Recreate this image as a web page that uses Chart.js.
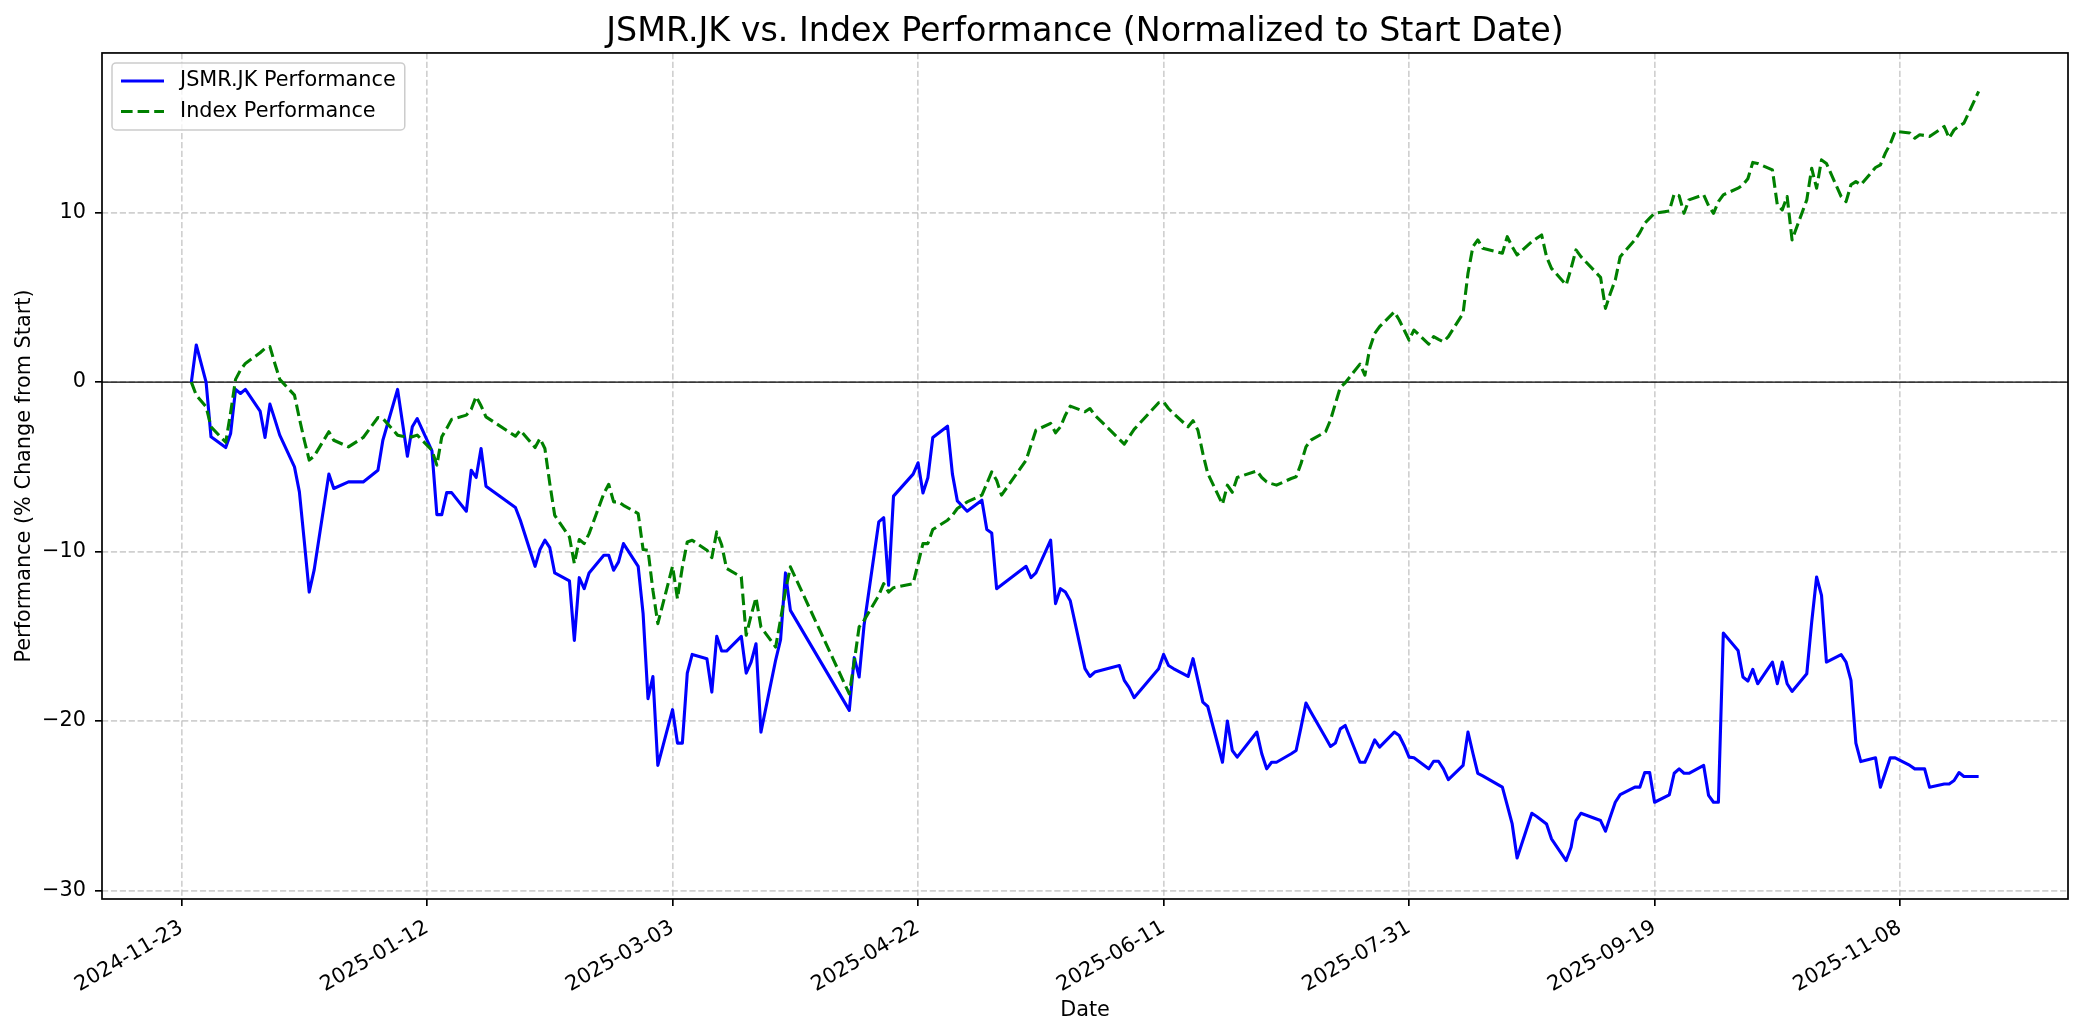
<!DOCTYPE html>
<html>
<head>
<meta charset="utf-8">
<title>JSMR.JK vs. Index Performance</title>
<script src="https://cdn.jsdelivr.net/npm/chart.js@4.4.1/dist/chart.umd.min.js"></script>
<style>
  html, body { margin: 0; padding: 0; background: #fff; }
  #wrap { width: 2084px; height: 1035px; }
</style>
</head>
<body>
<div id="wrap"><canvas id="perfChart" width="2084" height="1035"></canvas></div>
<script>
// trading days (IDX), grouped by month
const tradeDates = [
  '2024-11-25', '2024-11-26', '2024-11-28', '2024-11-29',
  '2024-12-02', '2024-12-03', '2024-12-04', '2024-12-05', '2024-12-06', '2024-12-09', '2024-12-10', '2024-12-11',
  '2024-12-12', '2024-12-13', '2024-12-16', '2024-12-17', '2024-12-18', '2024-12-19', '2024-12-20', '2024-12-23',
  '2024-12-24', '2024-12-27', '2024-12-30',
  '2025-01-02', '2025-01-03', '2025-01-06', '2025-01-07', '2025-01-08', '2025-01-09', '2025-01-10', '2025-01-13',
  '2025-01-14', '2025-01-15', '2025-01-16', '2025-01-17', '2025-01-20', '2025-01-21', '2025-01-22', '2025-01-23',
  '2025-01-24', '2025-01-30', '2025-01-31',
  '2025-02-03', '2025-02-04', '2025-02-05', '2025-02-06', '2025-02-07', '2025-02-10', '2025-02-11', '2025-02-12',
  '2025-02-13', '2025-02-14', '2025-02-17', '2025-02-18', '2025-02-19', '2025-02-20', '2025-02-21', '2025-02-24',
  '2025-02-25', '2025-02-26', '2025-02-27', '2025-02-28',
  '2025-03-03', '2025-03-04', '2025-03-05', '2025-03-06', '2025-03-07', '2025-03-10', '2025-03-11', '2025-03-12',
  '2025-03-13', '2025-03-14', '2025-03-17', '2025-03-18', '2025-03-19', '2025-03-20', '2025-03-21', '2025-03-24',
  '2025-03-25', '2025-03-26', '2025-03-27',
  '2025-04-08', '2025-04-09', '2025-04-10', '2025-04-11', '2025-04-14', '2025-04-15', '2025-04-16', '2025-04-17',
  '2025-04-21', '2025-04-22', '2025-04-23', '2025-04-24', '2025-04-25', '2025-04-28', '2025-04-29', '2025-04-30',
  '2025-05-02', '2025-05-05', '2025-05-06', '2025-05-07', '2025-05-08', '2025-05-09', '2025-05-14', '2025-05-15',
  '2025-05-16', '2025-05-19', '2025-05-20', '2025-05-21', '2025-05-22', '2025-05-23', '2025-05-26', '2025-05-27',
  '2025-05-28',
  '2025-06-02', '2025-06-03', '2025-06-04', '2025-06-05', '2025-06-10', '2025-06-11', '2025-06-12', '2025-06-13',
  '2025-06-16', '2025-06-17', '2025-06-18', '2025-06-19', '2025-06-20', '2025-06-23', '2025-06-24', '2025-06-25',
  '2025-06-26', '2025-06-30',
  '2025-07-01', '2025-07-02', '2025-07-03', '2025-07-04', '2025-07-07', '2025-07-08', '2025-07-09', '2025-07-10',
  '2025-07-11', '2025-07-14', '2025-07-15', '2025-07-16', '2025-07-17', '2025-07-18', '2025-07-21', '2025-07-22',
  '2025-07-23', '2025-07-24', '2025-07-25', '2025-07-28', '2025-07-29', '2025-07-30', '2025-07-31',
  '2025-08-01', '2025-08-04', '2025-08-05', '2025-08-06', '2025-08-07', '2025-08-08', '2025-08-11', '2025-08-12',
  '2025-08-13', '2025-08-14', '2025-08-15', '2025-08-19', '2025-08-20', '2025-08-21', '2025-08-22', '2025-08-25',
  '2025-08-26', '2025-08-27', '2025-08-28', '2025-08-29',
  '2025-09-01', '2025-09-02', '2025-09-03', '2025-09-04', '2025-09-08', '2025-09-09', '2025-09-10', '2025-09-11',
  '2025-09-12', '2025-09-15', '2025-09-16', '2025-09-17', '2025-09-18', '2025-09-19', '2025-09-22', '2025-09-23',
  '2025-09-24', '2025-09-25', '2025-09-26', '2025-09-29', '2025-09-30',
  '2025-10-01', '2025-10-02', '2025-10-03', '2025-10-06', '2025-10-07', '2025-10-08', '2025-10-09', '2025-10-10',
  '2025-10-13', '2025-10-14', '2025-10-15', '2025-10-16', '2025-10-17', '2025-10-20', '2025-10-21', '2025-10-22',
  '2025-10-23', '2025-10-24', '2025-10-27', '2025-10-28', '2025-10-29', '2025-10-30', '2025-10-31',
  '2025-11-03', '2025-11-04', '2025-11-05', '2025-11-06', '2025-11-07', '2025-11-10', '2025-11-11', '2025-11-12',
  '2025-11-13', '2025-11-14', '2025-11-17', '2025-11-18', '2025-11-19', '2025-11-20', '2025-11-21', '2025-11-24',
];

// % change from start, same order as tradeDates
const jsmrPerf = [
  0, 2.19, 0, -3.23,
  -3.86, -3.03, -0.43, -0.67, -0.43, -1.71, -3.27, -1.30,
  -2.2, -3.13, -5.0, -6.48, -9.4, -12.39, -11.1, -5.43,
  -6.28, -5.89, -5.89,
  -5.2, -3.43, -0.43, -2.4, -4.37, -2.64, -2.15, -4.06,
  -7.82, -7.82, -6.52, -6.52, -7.62, -5.2, -5.63, -3.92,
  -6.14, -7.40, -8.15,
  -10.87, -9.88, -9.33, -9.77, -11.26, -11.73, -15.24, -11.54,
  -12.19, -11.26, -10.22, -10.22, -11.1, -10.61, -9.53, -10.87,
  -13.66, -18.68, -17.37, -22.62,
  -19.33, -21.3, -21.3, -17.17, -16.07, -16.32, -18.29, -15.0,
  -15.87, -15.87, -15.0, -17.17, -16.52, -15.44, -20.65, -16.4,
  -15.2, -11.26, -13.47,
  -19.37, -16.26, -17.4, -14.35, -8.25, -8.0, -11.99, -6.73,
  -5.43, -4.76, -6.54, -5.65, -3.27, -2.6, -5.43, -7.01,
  -7.62, -6.97, -8.7, -8.9, -12.19, -11.97, -10.87, -11.54,
  -11.26, -9.33, -13.07, -12.19, -12.39, -12.9, -16.91, -17.37,
  -17.11,
  -16.72, -17.6, -18.03, -18.62, -16.91, -16.07, -16.72, -16.9,
  -17.37, -16.32, -17.6, -18.88, -19.14, -22.43, -20.0, -21.74,
  -22.13, -20.65,
  -21.93, -22.82, -22.43, -22.43, -21.93, -21.74, -20.36, -18.94,
  -19.47, -20.99, -21.5, -21.3, -20.46, -20.26, -22.43, -22.43,
  -21.8, -21.11, -21.54, -20.65, -20.85, -21.44, -22.13,
  -22.17, -22.82, -22.37, -22.37, -22.82, -23.45, -22.62, -20.65,
  -21.9, -23.08, -23.23, -23.9, -24.98, -26.07, -28.08, -25.44,
  -25.63, -25.85, -26.07, -26.95,
  -28.23, -27.45, -25.87, -25.44, -25.87, -26.5, -25.63, -24.79,
  -24.34, -23.9, -23.9, -23.04, -23.04, -24.79, -24.36, -23.08,
  -22.82, -23.08, -23.08, -22.62, -24.39,
  -24.79, -24.79, -14.81, -15.83, -17.4, -17.64, -16.95, -17.8,
  -16.52, -17.8, -16.52, -17.8, -18.25, -17.21, -14.16, -11.5,
  -12.58, -16.52, -16.08, -16.52, -17.6, -21.3, -22.39,
  -22.17, -23.9, -23.04, -22.17, -22.17, -22.62, -22.82, -22.82,
  -22.82, -23.9, -23.71, -23.71, -23.51, -23.04, -23.27, -23.27,
];

const indexPerf = [
  0, -0.77, -1.46, -2.64,
  -3.55, -1.8, 0.16, 0.71, 1.1, 1.73, 1.99, 2.09,
  1.1, 0.16, -0.77, -2.15, -3.43, -4.6, -4.37, -2.93,
  -3.43, -3.82, -3.27,
  -2.09, -2.15, -3.13, -3.2, -3.23, -3.23, -3.13, -4.02,
  -4.9, -3.23, -2.74, -2.2, -1.95, -1.6, -0.85, -1.4,
  -2.05, -3.19, -2.84,
  -3.86, -3.33, -3.92, -5.99, -7.86, -9.14, -10.71, -9.29,
  -9.53, -8.94, -6.58, -6.03, -7.07, -7.07, -7.27, -7.76,
  -9.88, -9.92, -12.29, -14.25,
  -10.87, -12.78, -10.91, -9.43, -9.33, -9.92, -10.36, -8.84,
  -9.6, -11.0, -11.5, -14.94, -13.76, -12.72, -14.45, -15.63,
  -14.0, -12.3, -10.9,
  -18.4, -16.5, -14.45, -14.06, -12.58, -11.89, -12.39, -12.13,
  -11.89, -10.71, -9.53, -9.53, -8.7, -8.15, -7.86, -7.46,
  -7.07, -6.67, -5.99, -5.3, -5.79, -6.67, -4.61, -3.72,
  -2.84, -2.44, -2.99, -2.64, -1.95, -1.42, -1.75, -1.56,
  -1.95,
  -3.37, -3.66, -3.23, -2.79, -1.22, -1.16, -1.56, -1.85,
  -2.64, -2.28, -2.84, -4.21, -5.39, -7.21, -6.08, -6.5,
  -5.63, -5.24,
  -5.63, -5.89, -5.99, -6.08, -5.69, -5.59, -4.8, -3.82,
  -3.43, -2.93, -2.24, -1.26, -0.31, -0.04, 1.06, 0.41,
  2.0, 2.87, 3.27, 4.15, 3.66, 3.07, 2.48,
  3.07, 2.24, 2.68, 2.52, 2.38, 2.68, 4.06, 6.42,
  7.99, 8.39, 7.9, 7.6, 8.58, 7.99, 7.5, 8.29,
  8.49, 8.68, 7.4, 6.71,
  5.73, 6.71, 7.8, 7.4, 6.18, 4.35, 5.24, 6.02,
  7.4, 8.39, 8.82, 9.37, 9.67, 9.96, 10.1, 11.1,
  11.0, 9.96, 10.75, 11.05, 10.4,
  9.96, 10.65, 11.05, 11.44, 11.64, 12.0, 12.96, 12.9,
  12.52, 10.45, 10.16, 10.95, 8.39, 10.75, 12.62, 11.44,
  13.11, 12.9, 10.95, 10.65, 11.64, 11.83, 11.64,
  12.66, 12.82, 13.51, 14.05, 14.79, 14.7, 14.39, 14.59,
  14.55, 14.49, 15.08, 14.39, 14.88, 15.1, 15.28, 17.15,
];

const xTickDates = ['2024-11-23', '2025-01-12', '2025-03-03', '2025-04-22',
                    '2025-06-11', '2025-07-31', '2025-09-19', '2025-11-08'];
const yTickValues = [-30, -20, -10, 0, 10];

const DAY_MS = 86400000;
const dayNum = s => Date.parse(s + 'T00:00:00Z') / DAY_MS;

const xs = tradeDates.map(dayNum);
const jsmrPoints = xs.map((x, i) => ({ x, y: jsmrPerf[i] }));
const indexPoints = xs.map((x, i) => ({ x, y: indexPerf[i] }));

// matplotlib-style 5% margins
const xPad = (xs[xs.length - 1] - xs[0]) * 0.05;
const allY = jsmrPerf.concat(indexPerf);
const yLo = Math.min(...allY), yHi = Math.max(...allY);
const yPad = (yHi - yLo) * 0.05;

const FS = 20.8;           // 10pt at 150 dpi
const GRID = 'rgba(176,176,176,0.6)';

Chart.defaults.font.family = '"DejaVu Sans", sans-serif';
Chart.defaults.color = '#000';

// horizontal reference line at 0
const zeroLine = {
  id: 'zeroLine',
  beforeDatasetsDraw(chart) {
    const { ctx, chartArea: a, scales: { y } } = chart;
    const py = y.getPixelForValue(0);
    ctx.save();
    ctx.strokeStyle = '#000';
    ctx.lineWidth = 1.2;
    ctx.beginPath();
    ctx.moveTo(a.left, py);
    ctx.lineTo(a.right, py);
    ctx.stroke();
    ctx.restore();
  }
};

// axes frame on all four sides + legend box in the upper left
const frameAndLegend = {
  id: 'frameAndLegend',
  afterDatasetsDraw(chart) {
    const { ctx, chartArea: a } = chart;
    ctx.save();
    ctx.strokeStyle = '#000';
    ctx.lineWidth = 1.7;
    ctx.strokeRect(a.left, a.top, a.right - a.left, a.bottom - a.top);

    ctx.font = FS + 'px "DejaVu Sans"';
    const sets = chart.data.datasets;
    const textW = Math.max(...sets.map(d => ctx.measureText(d.label).width));
    const bx = a.left + 10, by = a.top + 10;
    const bw = 9 + 43 + 16 + textW + 9, bh = 67;
    ctx.beginPath();
    if (ctx.roundRect) ctx.roundRect(bx, by, bw, bh, 4);
    else ctx.rect(bx, by, bw, bh);
    ctx.fillStyle = 'rgba(255,255,255,0.8)';
    ctx.fill();
    ctx.strokeStyle = '#cccccc';
    ctx.lineWidth = 1.5;
    ctx.stroke();

    sets.forEach((d, i) => {
      const cy = by + 18 + i * 30.5;
      ctx.beginPath();
      ctx.setLineDash(d.borderDash || []);
      ctx.strokeStyle = d.borderColor;
      ctx.lineWidth = d.borderWidth;
      ctx.moveTo(bx + 9, cy);
      ctx.lineTo(bx + 52, cy);
      ctx.stroke();
      ctx.setLineDash([]);
      ctx.fillStyle = '#000';
      ctx.textBaseline = 'middle';
      ctx.fillText(d.label, bx + 68, cy);
    });
    ctx.restore();
  }
};

new Chart(document.getElementById('perfChart'), {
  type: 'line',
  data: {
    datasets: [
      { label: 'JSMR.JK Performance', data: jsmrPoints, borderColor: '#0000ff', borderWidth: 3.1,
        pointRadius: 0, tension: 0, fill: false, borderJoinStyle: 'round', order: 2 },
      { label: 'Index Performance', data: indexPoints, borderColor: '#008000', borderWidth: 3.1,
        borderDash: [11.6, 5], pointRadius: 0, tension: 0, fill: false, borderJoinStyle: 'round', order: 1 },
    ],
  },
  options: {
    responsive: false,
    animation: false,
    devicePixelRatio: 1,
    layout: { padding: { left: 0, right: 16, top: 0, bottom: 6 } },
    plugins: {
      legend: { display: false },
      tooltip: { enabled: false },
      title: {
        display: true,
        fullSize: false,
        text: 'JSMR.JK vs. Index Performance (Normalized to Start Date)',
        color: '#000',
        font: { size: 33.3, weight: 'normal' },
        padding: { top: 12, bottom: 1 },
      },
    },
    scales: {
      x: {
        type: 'linear',
        min: xs[0] - xPad,
        max: xs[xs.length - 1] + xPad,
        afterBuildTicks: s => { s.ticks = xTickDates.map(t => ({ value: dayNum(t) })); },
        afterFit: s => { s.height = 130; },
        ticks: {
          autoSkip: false, minRotation: 30, maxRotation: 30, padding: 9.5,
          font: { size: FS }, color: '#000',
          callback: (v, i) => xTickDates[i],
        },
        grid: { color: GRID, lineWidth: 1.67, tickColor: '#000', tickLength: 7, tickWidth: 1.67 },
        border: { display: false, dash: [6.2, 2.7] },
        title: { display: true, text: 'Date', color: '#000', font: { size: FS }, padding: { top: 3, bottom: 6 } },
      },
      y: {
        type: 'linear',
        min: yLo - yPad,
        max: yHi + yPad,
        afterBuildTicks: s => { s.ticks = yTickValues.map(v => ({ value: v })); },
        afterFit: s => { s.width = 102; },
        ticks: {
          padding: 9, font: { size: FS }, color: '#000',
          callback: v => (v < 0 ? '\u2212' + Math.abs(v) : String(v)),
        },
        grid: { color: GRID, lineWidth: 1.67, tickColor: '#000', tickLength: 7, tickWidth: 1.67 },
        border: { display: false, dash: [6.2, 2.7] },
        title: {
          display: true, text: 'Performance (% Change from Start)', color: '#000',
          font: { size: FS }, padding: { top: 12.6, bottom: 0 },
        },
      },
    },
  },
  plugins: [zeroLine, frameAndLegend],
});
</script>
</body>
</html>
